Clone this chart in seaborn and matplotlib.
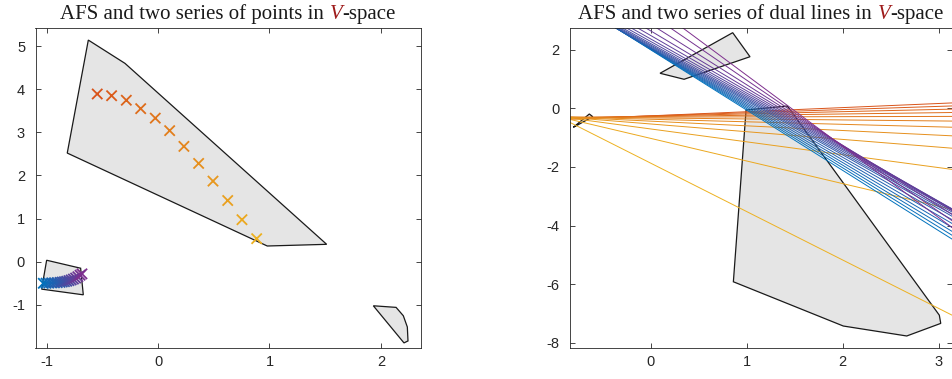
import numpy as np
import pandas as pd
import matplotlib
matplotlib.use("Agg")
import matplotlib.pyplot as plt
import seaborn as sns

# ---------------- data ----------------
# orange series of points (V-space)
orange_x = [-0.546, -0.417, -0.285, -0.156, -0.025, 0.104, 0.232, 0.364, 0.493, 0.625, 0.753, 0.885]
orange_y = [3.89, 3.85, 3.745, 3.55, 3.33, 3.04, 2.675, 2.28, 1.87, 1.42, 0.975, 0.535]

# blue/purple series of points (V-space)
blue_x = [-1.03, -1.005, -0.98, -0.955, -0.93, -0.905, -0.88, -0.86, -0.84,
          -0.82, -0.80, -0.78, -0.76, -0.74, -0.72, -0.70, -0.683]
blue_y = [-0.50, -0.497, -0.494, -0.491, -0.488, -0.484, -0.478, -0.470, -0.462,
          -0.452, -0.438, -0.422, -0.402, -0.378, -0.348, -0.312, -0.281]

# AFS polygons, left panel
afs1_x = [-0.626, -0.297, 1.513, 0.980, -0.815]
afs1_y = [5.14, 4.60, 0.404, 0.365, 2.52]
afs2_x = [-1.000, -0.695, -0.671, -1.045]
afs2_y = [0.035, -0.150, -0.767, -0.635]
afs3_x = [1.932, 2.136, 2.201, 2.237, 2.243, 2.207]
afs3_y = [-1.021, -1.058, -1.252, -1.513, -1.836, -1.882]

# AFS polygons, right panel (dual space)
dafs1_x = [0.994, 1.424, 3.005, 3.020, 2.666, 2.006, 0.862]
dafs1_y = [-0.058, 0.078, -7.06, -7.34, -7.77, -7.43, -5.92]
dafs2_x = [0.099, 0.349, 1.035, 0.855]
dafs2_y = [1.195, 0.990, 1.760, 2.580]
dafs3_x = [-0.803, -0.637, -0.601, -0.775]
dafs3_y = [-0.648, -0.195, -0.287, -0.600]

left_xticks = [-1, 0, 1, 2]
left_yticks = [-1, 0, 1, 2, 3, 4, 5]
right_xticks = [0, 1, 2, 3]
right_yticks = [-8, -6, -4, -2, 0, 2]

title_left = ["AFS and two series of points in", "V", "-space"]
title_right = ["AFS and two series of dual lines in", "V", "-space"]

# ---------------- styling ----------------
sns.set_theme(style="ticks")
plt.rcParams['font.family'] = ['Liberation Sans', 'DejaVu Sans']
plt.rcParams['axes.unicode_minus'] = False

ORANGE_A = np.array([0.85, 0.325, 0.098])
ORANGE_B = np.array([0.929, 0.694, 0.125])
BLUE_A = np.array([0.0, 0.447, 0.741])
BLUE_B = np.array([0.494, 0.184, 0.556])


def grad(a, b, n):
    return [tuple(a + (b - a) * t) for t in np.linspace(0, 1, n)]


orange_cols = grad(ORANGE_A, ORANGE_B, len(orange_x))
blue_cols = grad(BLUE_A, BLUE_B, len(blue_x))

W, H = 953, 379
fig = plt.figure(figsize=(W / 100, H / 100), dpi=100)
axL = fig.add_axes([35.5 / W, 1 - 348 / H, (420.7 - 35.5) / W, (348 - 28) / H])
axR = fig.add_axes([570 / W, 1 - 348 / H, (952 - 570) / W, (348 - 28) / H])

FILL = '#e5e5e5'
AXC = '#262626'


def style_axes(ax):
    for s in ax.spines.values():
        s.set_color(AXC)
        s.set_linewidth(0.6)
        s.set_visible(True)
    ax.tick_params(direction='in', top=True, right=True, length=3.5, width=0.6,
                   color=AXC, labelcolor=AXC, labelsize=10.5)
    ax.tick_params(axis='x', pad=5)
    ax.tick_params(axis='y', pad=7.5)
    ax.grid(False)
    ax.set_xlabel("")
    ax.set_ylabel("")


# ---------------- left panel ----------------
for px, py in [(afs1_x, afs1_y), (afs2_x, afs2_y), (afs3_x, afs3_y)]:
    axL.fill(px, py, facecolor=FILL, edgecolor='k', linewidth=0.9, zorder=1)

dfo = pd.DataFrame({'x': orange_x, 'y': orange_y, 'id': [f"o{i:02d}" for i in range(len(orange_x))]})
dfb = pd.DataFrame({'x': blue_x, 'y': blue_y, 'id': [f"b{i:02d}" for i in range(len(blue_x))]})
sns.scatterplot(data=dfo, x='x', y='y', hue='id', palette=orange_cols, marker='x',
                s=55, linewidth=1.3, legend=False, ax=axL, zorder=3)
sns.scatterplot(data=dfb, x='x', y='y', hue='id', palette=blue_cols, marker='x',
                s=55, linewidth=1.3, legend=False, ax=axL, zorder=3)

axL.set_xlim(-1.1, 2.357)
axL.set_ylim(-2.0, 5.42)
axL.set_xticks(left_xticks)
axL.set_yticks(left_yticks)
style_axes(axL)

# ---------------- right panel ----------------
for px, py in [(dafs1_x, dafs1_y), (dafs2_x, dafs2_y), (dafs3_x, dafs3_y)]:
    axR.fill(px, py, facecolor=FILL, edgecolor='k', linewidth=0.9, zorder=1)

xr = (-0.838, 3.137)
yr = (-8.18, 2.74)
v1 = np.array([xr[0] - 0.5, xr[1] + 0.5])


def dual_lines(px, py, prefix):
    rows = []
    for i, (a, b) in enumerate(zip(px, py)):
        v2 = (-1.0 - a * v1) / b  # line a*v1 + b*v2 + 1 = 0
        for x, y in zip(v1, v2):
            rows.append({'v1': x, 'v2': y, 'id': f"{prefix}{i:02d}"})
    return pd.DataFrame(rows)


dlo = dual_lines(orange_x, orange_y, 'o')
dlb = dual_lines(blue_x, blue_y, 'b')
sns.lineplot(data=dlo, x='v1', y='v2', hue='id', palette=orange_cols, estimator=None,
             sort=False, linewidth=0.7, legend=False, ax=axR, zorder=2)
sns.lineplot(data=dlb, x='v1', y='v2', hue='id', palette=blue_cols, estimator=None,
             sort=False, linewidth=0.7, legend=False, ax=axR, zorder=2)

axR.set_xlim(*xr)
axR.set_ylim(*yr)
axR.set_xticks(right_xticks)
axR.set_yticks(right_yticks)
style_axes(axR)

# ---------------- titles with coloured italic V ----------------
fig.canvas.draw()
renderer = fig.canvas.get_renderer()
SERIF = ['Liberation Serif', 'DejaVu Serif']


def text_width(s, **kw):
    t = fig.text(0, 0, s, transform=None, **kw)
    w = t.get_window_extent(renderer).width
    t.remove()
    return w


def rich_title(ax, parts):
    kw = dict(fontsize=15, family=SERIF)
    sp = text_width("x x", **kw) - text_width("xx", **kw)
    styles = [dict(color='#1a1a1a'), dict(color='#9e1b1b', style='italic'), dict(color='#1a1a1a')]
    widths = [text_width(p, **kw, **st) for p, st in zip(parts, styles)]
    total = widths[0] + sp + widths[1] + widths[2]
    bb = ax.get_window_extent(renderer)
    cx = (bb.x0 + bb.x1) / 2
    y = bb.y1 + 8.7
    x = cx - total / 2
    offs = [x, x + widths[0] + sp, x + widths[0] + sp + widths[1]]
    for p, st, xo in zip(parts, styles, offs):
        fig.text(xo, y, p, transform=None, ha='left', va='baseline', **kw, **st)


rich_title(axL, title_left)
rich_title(axR, title_right)

fig.savefig("out.png", dpi=100)
